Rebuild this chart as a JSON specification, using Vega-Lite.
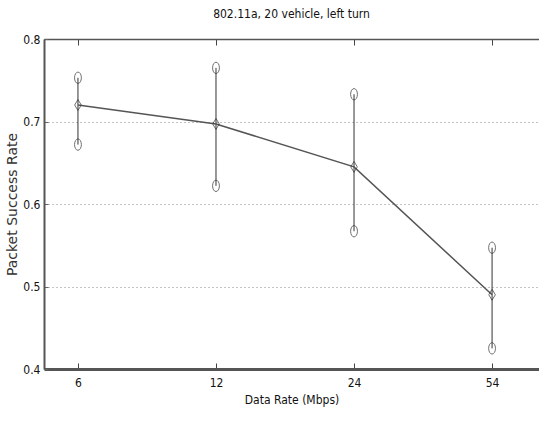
{
  "$schema": "https://vega.github.io/schema/vega-lite/v6.json",
  "width": 495,
  "height": 330,
  "autosize": "none",
  "padding": {"left": 44, "top": 39, "right": 0, "bottom": 62},
  "background": "white",
  "title": {"text": "802.11a, 20 vehicle, left turn", "font": "Liberation Sans Narrow, DejaVu Sans Condensed, Liberation Sans, sans-serif", "fontSize": 12, "fontWeight": "normal", "color": "#111", "offset": 12},
  "config": {"view": {"stroke": null}},
  "data": {"values": [
    {"idx": 1, "rate": "6", "mean": 0.720, "lower": 0.672, "upper": 0.753},
    {"idx": 2, "rate": "12", "mean": 0.697, "lower": 0.622, "upper": 0.765},
    {"idx": 3, "rate": "24", "mean": 0.645, "lower": 0.567, "upper": 0.733},
    {"idx": 4, "rate": "54", "mean": 0.490, "lower": 0.425, "upper": 0.547}
  ]},
  "encoding": {
    "x": {"field": "idx", "type": "quantitative", "scale": {"domain": [0.754, 4.34], "nice": false, "zero": false}, "axis": null}
  },
  "layer": [
    {
      "mark": {"type": "rule", "color": "#333", "strokeWidth": 1},
      "encoding": {
        "x": {"field": "idx", "type": "quantitative",
          "axis": {"orient": "bottom", "values": [1, 2, 3, 4], "labelExpr": "['','6','12','24','54'][datum.value]", "title": "Data Rate (Mbps)", "titleFont": "Liberation Sans Narrow, DejaVu Sans Condensed, Liberation Sans, sans-serif", "titleFontSize": 12, "titleFontWeight": "normal", "titleColor": "#111", "titlePadding": 6, "labelFont": "Liberation Sans Narrow, DejaVu Sans Condensed, Liberation Sans, sans-serif", "labelFontSize": 12, "labelColor": "#111", "labelPadding": 14, "tickSize": -6, "tickColor": "#444", "domainColor": "#555", "domainWidth": 3, "grid": false}},
        "y": {"field": "lower", "type": "quantitative", "scale": {"domain": [0.4, 0.8], "nice": false, "zero": false},
          "axis": {"values": [0.4, 0.5, 0.6, 0.7, 0.8], "format": ".1f", "title": "Packet Success Rate", "titleFont": "DejaVu Sans, sans-serif", "titleFontSize": 14, "titleFontWeight": "normal", "titleColor": "#333", "titlePadding": 3, "labelFont": "Liberation Sans Narrow, DejaVu Sans Condensed, Liberation Sans, sans-serif", "labelFontSize": 12, "labelColor": "#111", "labelPadding": 8, "tickSize": -4, "tickColor": "#666", "domainColor": "#555", "domainWidth": 2, "grid": true, "gridDash": [1, 3], "gridColor": "#888", "gridWidth": 1}},
        "y2": {"field": "upper"}
      }
    },
    {
      "mark": {"type": "line", "color": "#555", "strokeWidth": 1.5},
      "encoding": {"y": {"field": "mean", "type": "quantitative"}}
    },
    {
      "mark": {"type": "point", "shape": "M0,-1A0.6,1 0 1,1 0,1A0.6,1 0 1,1 0,-1Z", "size": 130, "filled": false, "color": "#333", "strokeWidth": 1},
      "encoding": {"y": {"field": "lower", "type": "quantitative"}}
    },
    {
      "mark": {"type": "point", "shape": "M0,-1A0.6,1 0 1,1 0,1A0.6,1 0 1,1 0,-1Z", "size": 130, "filled": false, "color": "#333", "strokeWidth": 1},
      "encoding": {"y": {"field": "upper", "type": "quantitative"}}
    },
    {
      "mark": {"type": "point", "shape": "M0,-1L0.6,0L0,1L-0.6,0Z", "size": 120, "filled": false, "color": "#333", "strokeWidth": 1},
      "encoding": {"y": {"field": "mean", "type": "quantitative"}}
    },
    {
      "mark": {"type": "rule", "opacity": 0},
      "encoding": {
        "x": {"field": "idx", "type": "quantitative",
          "axis": {"orient": "top", "values": [1, 2, 3, 4], "labels": false, "title": null, "tickSize": -6, "tickColor": "#444", "domainColor": "#555", "domainWidth": 1.5, "grid": false}}
      }
    }
  ],
  "resolve": {"axis": {"x": "independent"}}
}
